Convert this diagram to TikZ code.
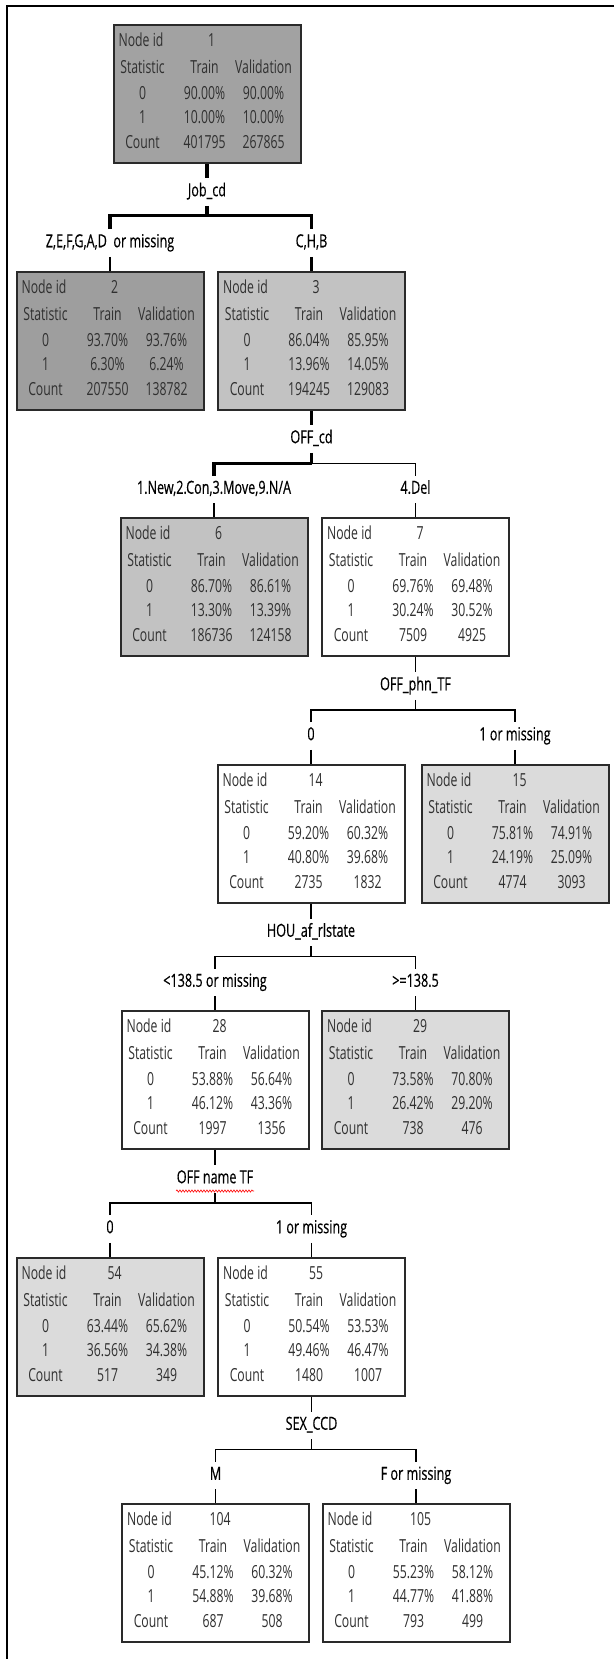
\documentclass[tikz,border=0pt]{standalone}
\usepackage{fontspec}
\newfontfamily\boxfont{Open Sans}[FakeStretch=0.68]
\newfontfamily\labfont{Open Sans}[FakeStretch=0.70,FakeBold=0.4]
\usetikzlibrary{calc,decorations.pathmorphing}
\definecolor{gdark}{HTML}{A2A2A2}
\definecolor{gdarker}{HTML}{9E9E9E}
\definecolor{gmid}{HTML}{C2C2C2}
\definecolor{glight}{HTML}{DBDBDB}
\definecolor{bord}{HTML}{2A2A2A}
\definecolor{txt}{HTML}{303030}
\tikzset{
 treebox/.style={draw=bord, line width=2pt, minimum width=187pt, minimum height=138pt, inner sep=0pt, rectangle},
 boxtxt/.style={font=\boxfont\fontsize{18}{21}\selectfont, text=txt, inner sep=0pt, text height=13pt, text depth=3.5pt},
 lab/.style={font=\labfont\fontsize{18}{21}\selectfont, inner xsep=2pt, inner ysep=6pt, text height=12pt, text depth=3.5pt},
 thickc/.style={line width=3.2pt},
 medc/.style={line width=2.4pt},
 thinc/.style={line width=1.3pt},
 squig/.style={red, line width=0.6pt, decorate, decoration={snake, amplitude=1.1pt, segment length=3pt}},
}
\newcommand\tbox[5]{%
  \node[treebox, fill=#4, anchor=north] (#1) at (#2,#3) {};
  \def\tbn{#1}%
  \node[boxtxt] (#1-a) at ($(#1.north west)+(28.5,18)$) {Node id};
  \node[boxtxt] (#1-b) at ($(#1.north west)+(99,18)$) {#5};
  \node[boxtxt] (#1-c) at ($(#1.north west)+(30,45)$) {Statistic};
  \node[boxtxt] (#1-d) at ($(#1.north west)+(92,45)$) {Train};
  \node[boxtxt] (#1-e) at ($(#1.north west)+(151,45)$) {Validation};
  \node[boxtxt] (#1-f) at ($(#1.north west)+(30,71)$) {0};
  \node[boxtxt] (#1-g) at ($(#1.north west)+(30,95)$) {1};
  \node[boxtxt] (#1-h) at ($(#1.north west)+(30,120)$) {Count};
}
\newcommand\tvals[6]{%
  \node[boxtxt] (\tbn-i) at ($(\tbn.north west)+(92,71)$) {#1};
  \node[boxtxt] (\tbn-j) at ($(\tbn.north west)+(151,71)$) {#2};
  \node[boxtxt] (\tbn-k) at ($(\tbn.north west)+(92,95)$) {#3};
  \node[boxtxt] (\tbn-l) at ($(\tbn.north west)+(151,95)$) {#4};
  \node[boxtxt] (\tbn-m) at ($(\tbn.north west)+(92,120)$) {#5};
  \node[boxtxt] (\tbn-n) at ($(\tbn.north west)+(151,120)$) {#6};
}
\begin{document}
\begin{tikzpicture}[x=1pt,y=-1pt]
\useasboundingbox[fill=white] (0,0) rectangle (614,1659);
% frame
\draw[line width=2.6pt] (614,6) -- (7,6) -- (7,1659);

% boxes
\tbox{n1}{207}{24}{gdark}{1}\tvals{90.00\%}{90.00\%}{10.00\%}{10.00\%}{401795}{267865}
\tbox{n2}{110}{270.5}{gdarker}{2}\tvals{93.70\%}{93.76\%}{6.30\%}{6.24\%}{207550}{138782}
\tbox{n3}{311.5}{270.5}{gmid}{3}\tvals{86.04\%}{85.95\%}{13.96\%}{14.05\%}{194245}{129083}
\tbox{n6}{214}{517}{gmid}{6}\tvals{86.70\%}{86.61\%}{13.30\%}{13.39\%}{186736}{124158}
\tbox{n7}{415.5}{517}{white}{7}\tvals{69.76\%}{69.48\%}{30.24\%}{30.52\%}{7509}{4925}
\tbox{n14}{311}{763.5}{white}{14}\tvals{59.20\%}{60.32\%}{40.80\%}{39.68\%}{2735}{1832}
\tbox{n15}{515}{763.5}{glight}{15}\tvals{75.81\%}{74.91\%}{24.19\%}{25.09\%}{4774}{3093}
\tbox{n28}{215}{1010}{white}{28}\tvals{53.88\%}{56.64\%}{46.12\%}{43.36\%}{1997}{1356}
\tbox{n29}{415.5}{1010}{glight}{29}\tvals{73.58\%}{70.80\%}{26.42\%}{29.20\%}{738}{476}
\tbox{n54}{110}{1256.5}{glight}{54}\tvals{63.44\%}{65.62\%}{36.56\%}{34.38\%}{517}{349}
\tbox{n55}{311.5}{1256.5}{white}{55}\tvals{50.54\%}{53.53\%}{49.46\%}{46.47\%}{1480}{1007}
\tbox{n104}{215.5}{1503}{white}{104}\tvals{45.12\%}{60.32\%}{54.88\%}{39.68\%}{687}{508}
\tbox{n105}{416}{1503}{white}{105}\tvals{55.23\%}{58.12\%}{44.77\%}{41.88\%}{793}{499}

% level 1
\node[lab] (s1) at (207,192) {Job\_cd};
\coordinate (s1b) at (207,215.5);
\coordinate (s1l) at (110,215.5);
\coordinate (s1r) at (311.5,215.5);
\node[lab] (b2) at (110,243) {Z,E,F,G,A,D\ \ or missing};
\node[lab] (b3) at (311.5,243) {C,H,B};
\draw[thickc] (n1.south) -- (s1.north);
\draw[thickc] (s1.south) -- (s1b);
\draw[thickc] (b2.north) -- (s1l) -- (s1r) -- (b3.north);
\draw[medc] (b2.south) -- (n2.north);
\draw[thickc] (b3.south) -- (n3.north);

% level 2
\node[lab] (s2) at (311.5,439) {OFF\_cd};
\coordinate (s2b) at (311.5,463.5);
\coordinate (s2l) at (214,463.5);
\coordinate (s2r) at (415.5,463.5);
\node[lab] (b6) at (214,489.5) {1.New,2.Con,3.Move,9.N/A};
\node[lab] (b7) at (415.5,489.5) {4.Del};
\draw[thickc] (n3.south) -- (s2.north);
\draw[thickc] (s2.south) -- (s2b);
\draw[thickc] (b6.north) -- (s2l) -- (s2b);
\draw[thinc] (s2b) -- (s2r) -- (b7.north);
\draw[medc] (b6.south) -- (n6.north);
\draw[thinc] (b7.south) -- (n7.north);

% level 3
\node[lab] (s3) at (415.5,686) {OFF\_phn\_TF};
\coordinate (s3b) at (415.5,710);
\coordinate (s3l) at (311,710);
\coordinate (s3r) at (515,710);
\node[lab] (b14) at (311,736) {0};
\node[lab] (b15) at (515,736) {1 or missing};
\draw[thinc] (n7.south) -- (s3.north);
\draw[thinc] (s3.south) -- (s3b);
\draw[thinc] (b14.north) -- (s3l) -- (s3r) -- (b15.north);
\draw[thinc] (b14.south) -- (n14.north);
\draw[thinc] (b15.south) -- (n15.north);

% level 4
\node[lab] (s4) at (311,932.5) {HOU\_af\_rlstate};
\coordinate (s4b) at (311,956.5);
\coordinate (s4l) at (215,956.5);
\coordinate (s4r) at (415.5,956.5);
\node[lab] (b28) at (215,982.5) {<138.5 or missing};
\node[lab] (b29) at (415.5,982.5) {>=138.5};
\draw[thinc] (n14.south) -- (s4.north);
\draw[thinc] (s4.south) -- (s4b);
\draw[thinc] (b28.north) -- (s4l) -- (s4r) -- (b29.north);
\draw[thinc] (b28.south) -- (n28.north);
\draw[thinc] (b29.south) -- (n29.north);

% level 5
\node[lab] (s5) at (215,1179) {OFF name TF};
\coordinate (q1) at (176,1191);
\coordinate (q2) at (254,1191);
\draw[squig] (q1) -- (q2);
\coordinate (s5b) at (215,1203);
\coordinate (s5l) at (110,1203);
\coordinate (s5r) at (311.5,1203);
\node[lab] (b54) at (110,1229) {0};
\node[lab] (b55) at (311.5,1229) {1 or missing};
\draw[thinc] (n28.south) -- (s5.north);
\draw[thinc] (s5.south) -- (s5b);
\draw[thinc] (b54.north) -- (s5l) -- (s5r) -- (b55.north);
\draw[thinc] (b54.south) -- (n54.north);
\draw[thinc] (b55.south) -- (n55.north);

% level 6
\node[lab] (s6) at (311.5,1425.5) {SEX\_CCD};
\coordinate (s6b) at (311.5,1449.5);
\coordinate (s6l) at (215.5,1449.5);
\coordinate (s6r) at (416,1449.5);
\node[lab] (b104) at (215.5,1475.5) {M};
\node[lab] (b105) at (416,1475.5) {F or missing};
\draw[thinc] (n55.south) -- (s6.north);
\draw[thinc] (s6.south) -- (s6b);
\draw[thinc] (b104.north) -- (s6l) -- (s6r) -- (b105.north);
\draw[thinc] (b104.south) -- (n104.north);
\draw[thinc] (b105.south) -- (n105.north);
\end{tikzpicture}
\end{document}
